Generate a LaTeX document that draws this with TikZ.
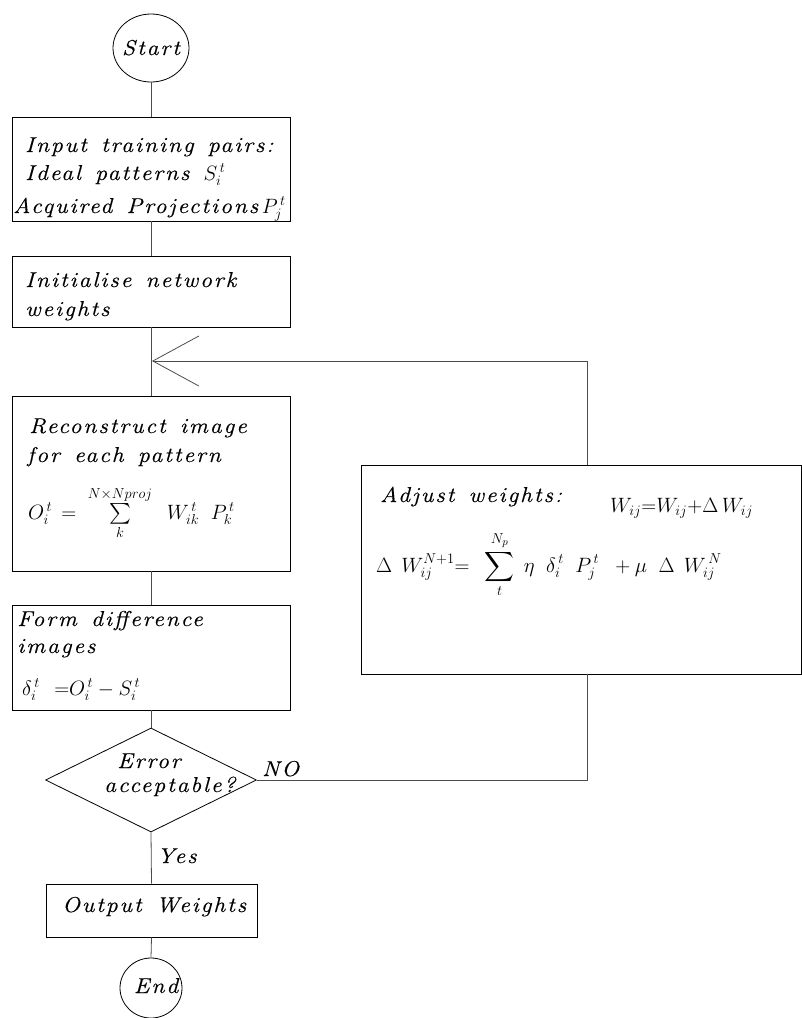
\documentclass[tikz,border=0pt]{standalone}
\usepackage{amsmath}
\usepackage{fontspec}
\newfontfamily\cad[LetterSpace=9, WordSpace=1.4, FakeStretch=1.1, FakeBold=0.4]{Latin Modern Roman}
\usetikzlibrary{shapes.geometric,arrows.meta,calc}
\begin{document}
\begin{tikzpicture}[x=1pt,y=-1pt,
  lbl/.style={inner sep=0pt, anchor=base west, font=\cad\itshape\fontsize{21.5}{24}\selectfont},
  ctr/.style={inner sep=0pt, anchor=base, font=\cad\itshape\fontsize{21.5}{24}\selectfont},
  box/.style={draw, line width=0.8pt, inner sep=0pt, rectangle},
  conn/.style={draw=black!70, line width=0.8pt},
  term/.style={draw, line width=0.8pt, ellipse, inner sep=0pt}]
\useasboundingbox (0,0) rectangle (802,1018);
% shapes
\node[term, minimum width=76pt, minimum height=68pt] (start) at (151,48) {};
\node[box, minimum width=278pt, minimum height=104pt] (b1) at (151,169) {};
\node[box, minimum width=278pt, minimum height=71pt] (b2) at (151,291.5) {};
\node[box, minimum width=278pt, minimum height=175pt] (b3) at (151,483.5) {};
\node[box, minimum width=278pt, minimum height=105pt] (b4) at (151,657.5) {};
\node[draw, line width=0.8pt, diamond, inner sep=0pt, minimum width=211pt, minimum height=104pt] (dec) at (151,780) {};
\node[box, minimum width=211pt, minimum height=53pt] (out) at (151.5,910.5) {};
\node[term, minimum width=62pt, minimum height=60pt] (end) at (151,988) {};
\node[box, minimum width=440pt, minimum height=209pt] (adj) at (581,569.5) {};
\coordinate (loopR) at (587,361);
\coordinate (loopL) at (152,361);
% texts
\node[ctr] (tstart) at (151,55) {Start};
\node[lbl] (t1a) at (25,152) {Input training pairs:};
\node[lbl] (t1b) at (25,180) {Ideal patterns $S_i^{\,t}$};
\node[lbl] (t1c) at (13,213) {Acquired Projections\,$P_j^{\,t}$};
\node[lbl] (t2a) at (25,287) {Initialise network};
\node[lbl] (t2b) at (25,316) {weights};
\node[lbl] (t3a) at (29,433) {Reconstruct image};
\node[lbl] (t3b) at (27,462) {for each pattern};
\node[lbl] (t3c) at (28,519) {$O_i^{\,t} \,=\; \sum\limits_{k}^{N\times Nproj} \;\; W_{ik}^{\,t}\;\; P_k^{\,t}$};
\node[lbl] (t4a) at (17,626) {Form difference};
\node[lbl] (t4b) at (17,653) {images};
\node[lbl] (t4c) at (22,695) {$\delta_i^{\,t}\ {=}O_i^{\,t} - S_i^{\,t}$};
\node[lbl] (tdA) at (117,768) {Error};
\node[lbl] (tdB) at (104,792) {acceptable?};
\node[lbl] (tno) at (262,776) {NO};
\node[lbl] (tyes) at (157,863) {Yes};
\node[lbl] (tout) at (62,912) {Output Weights};
\node[ctr] (tend) at (156,993) {End};
\node[lbl] (tadj) at (380,502) {Adjust weights:};
\node[lbl] (tadj2) at (610,512) {$W_{ij}{=}W_{ij}{+}\Delta\, W_{ij}$};
\node[lbl] (tadj3) at (376,572) {$\Delta\;\, W_{ij}^{N+1}{=}\;\; \displaystyle\sum_{t}^{N_p}\; \eta\;\; \delta_i^{\,t}\;\; P_j^{\,t}\;\; + \mu\;\; \Delta\;\, W_{ij}^{\,N}$};
% connectors
\draw[conn] (start.south) -- (b1.north);
\draw[conn] (b1.south) -- (b2.north);
\draw[conn] (b2.south) -- (b3.north);
\draw[conn] (b3.south) -- (b4.north);
\draw[conn] (b4.south) -- (dec.north);
\draw[conn] (dec.south) -- (out.north);
\draw[conn] (out.south) -- (end.north);
\draw[conn] (dec.east) -- (dec.east -| loopR) -- (adj.south -| loopR);
\draw[conn, -{Straight Barb[length=46pt, width=50pt, line width=0.8pt]}] (adj.north -| loopR) -- (loopR) -- (loopL);
\end{tikzpicture}
\end{document}
